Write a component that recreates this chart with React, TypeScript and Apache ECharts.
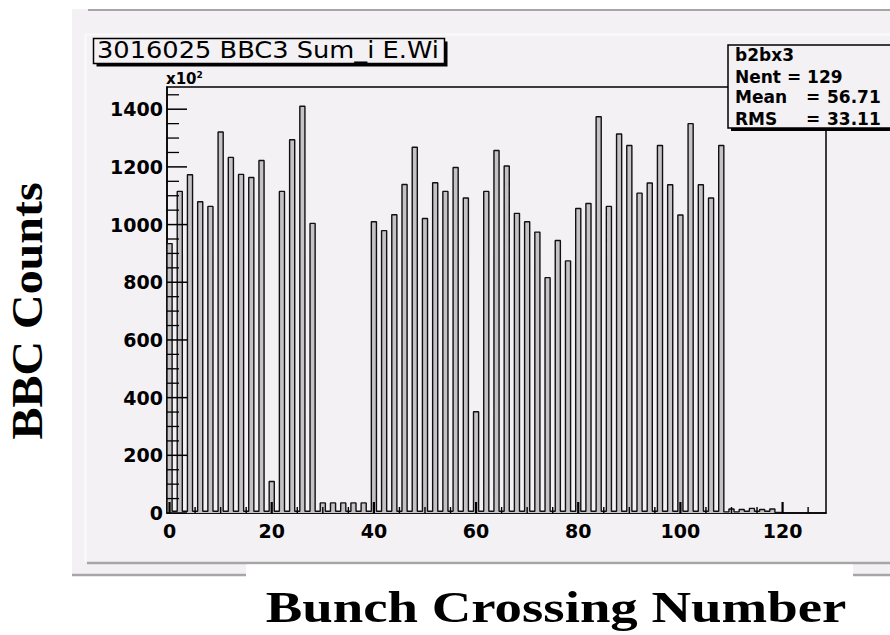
import React, { useEffect, useRef } from "react";
import * as echarts from "echarts";

// Histogram contents, bins 0..128 (bin k centred on bunch crossing k), in units of 10^2 counts
const binCounts = [
  934, 6, 1115, 6, 1173, 6, 1079, 6, 1063, 6,
  1321, 6, 1233, 6, 1174, 6, 1163, 6, 1222, 6,
  109, 6, 1115, 6, 1294, 6, 1410, 6, 1004, 6,
  35, 6, 35, 6, 35, 6, 35, 6, 35, 6,
  1010, 6, 979, 6, 1034, 6, 1139, 6, 1268, 6,
  1021, 6, 1145, 6, 1115, 6, 1198, 6, 1092, 6,
  351, 6, 1115, 6, 1257, 6, 1203, 6, 1039, 6,
  1010, 6, 974, 6, 816, 6, 945, 6, 874, 6,
  1056, 6, 1073, 6, 1374, 6, 1063, 6, 1314, 6,
  1274, 6, 1109, 6, 1144, 6, 1274, 6, 1138, 6,
  1033, 6, 1350, 6, 1138, 6, 1092, 6, 1274, 4,
  14, 4, 12, 6, 16, 6, 12, 6, 14, 2,
  0, 0, 0, 0, 0, 0, 0, 0, 0,
];

const xRange = [-0.5, 128.5];
const yMax = 1477;
const xLabelValues = [0, 20, 40, 60, 80, 100, 120];
const xMinorTickValues = [5, 10, 15, 25, 30, 35, 45, 50, 55, 65, 70, 75, 85, 90, 95, 105, 110, 115, 125];
const yLabelValues = [0, 200, 400, 600, 800, 1000, 1200, 1400];
const yMinorTickValues = [
  50, 100, 150, 250, 300, 350, 450, 500, 550, 650, 700, 750,
  850, 900, 950, 1050, 1100, 1150, 1250, 1300, 1350, 1450,
];

const histTitle = "3016025 BBC3 Sum_i E.Wi";
const statsName = "b2bx3";
const statsNent = "Nent = 129";
const statsRows = [
  ["Mean", "=", "56.71"],
  ["RMS", "=", "33.11"],
];
const yTitle = "BBC Counts";
const xTitle = "Bunch Crossing Number";

const PAD = "#f4f1f4";
const AXIS_FONT = '"DejaVu Sans", sans-serif';

// tick marks drawn as rectangular scatter symbols placed through the axes' scales
function xTickSeries(values: number[], len: number, width: number) {
  return {
    type: "scatter",
    silent: true,
    clip: false,
    z: 8,
    symbol: "rect",
    symbolSize: [width, len],
    symbolOffset: [0, -len / 2],
    itemStyle: { color: "#000", opacity: 1 },
    data: values.map((v) => [v, 0]),
  };
}

function yTickSeries(values: number[], len: number, width: number) {
  return {
    type: "scatter",
    silent: true,
    clip: false,
    z: 8,
    symbol: "rect",
    symbolSize: [len, width],
    symbolOffset: [len / 2, 0],
    itemStyle: { color: "#000", opacity: 1 },
    data: values.map((v) => [xRange[0], v]),
  };
}

export default function App() {
  const ref = useRef<HTMLDivElement>(null);

  useEffect(() => {
    if (!ref.current) return;
    const chart = echarts.init(ref.current, null, { renderer: "svg" });

    const histData: number[][] = [[xRange[0], 0]];
    binCounts.forEach((v, k) => histData.push([k - 0.5, v]));
    histData.push([xRange[1], 0]);

    const statsFont = `bold 17px ${AXIS_FONT}`;
    const statsGraphics: any[] = [
      { type: "text", x: 735, y: 55, z: 102, style: { text: statsName, font: statsFont, fill: "#000", textVerticalAlign: "middle" } },
      { type: "text", x: 735, y: 77, z: 102, style: { text: statsNent, font: statsFont, fill: "#000", textVerticalAlign: "middle" } },
    ];
    statsRows.forEach((row, i) => {
      const y = 97 + i * 22;
      statsGraphics.push(
        { type: "text", x: 735, y, z: 102, style: { text: row[0], font: statsFont, fill: "#000", textVerticalAlign: "middle" } },
        { type: "text", x: 806, y, z: 102, style: { text: row[1], font: statsFont, fill: "#000", textVerticalAlign: "middle" } },
        { type: "text", x: 827, y, z: 102, style: { text: row[2], font: statsFont, fill: "#000", textVerticalAlign: "middle" } }
      );
    });

    const option: any = {
      animation: false,
      backgroundColor: "#ffffff",
      grid: {
        left: 167,
        top: 87,
        right: 64,
        bottom: 122,
        show: true,
        borderColor: "#000",
        borderWidth: 1.5,
        backgroundColor: "transparent",
      },
      xAxis: {
        type: "value",
        min: xRange[0],
        max: xRange[1],
        splitLine: { show: false },
        axisLine: { show: true, onZero: false, lineStyle: { color: "#000", width: 1.5 } },
        axisTick: { show: false },
        axisLabel: {
          show: true,
          customValues: xLabelValues,
          margin: 8,
          color: "#000",
          fontFamily: AXIS_FONT,
          fontWeight: "bold",
          fontSize: 19,
          formatter: (v: number) => String(v),
        },
      },
      yAxis: {
        type: "value",
        min: 0,
        max: yMax,
        splitLine: { show: false },
        axisLine: { show: true, onZero: false, lineStyle: { color: "#000", width: 1.5 } },
        axisTick: { show: false },
        axisLabel: {
          show: true,
          customValues: yLabelValues,
          margin: 4,
          color: "#000",
          fontFamily: AXIS_FONT,
          fontWeight: "bold",
          fontSize: 19,
          formatter: (v: number) => String(v),
        },
      },
      series: [
        {
          type: "line",
          step: "end",
          symbol: "none",
          data: histData,
          lineStyle: { color: "#111", width: 1.4 },
          areaStyle: { color: "#c4c2c4", opacity: 1 },
          z: 5,
        },
        xTickSeries(xLabelValues, 11, 2.2),
        xTickSeries(xMinorTickValues, 6, 1.4),
        yTickSeries(yLabelValues, 20, 1.5),
        yTickSeries(yMinorTickValues, 12, 1.3),
      ],
      graphic: [
        // canvas / pad backgrounds
        { type: "rect", z: -100, shape: { x: 72, y: 9, width: 830, height: 567 }, style: { fill: PAD } },
        { type: "line", z: -99, shape: { x1: 88, y1: 10, x2: 890, y2: 10 }, style: { stroke: "#a6a6a6", lineWidth: 2 } },
        { type: "line", z: -99, shape: { x1: 85, y1: 34.5, x2: 890, y2: 34.5 }, style: { stroke: "#fbfafb", lineWidth: 2 } },
        { type: "line", z: -99, shape: { x1: 85.5, y1: 34, x2: 85.5, y2: 562 }, style: { stroke: "#fbfafb", lineWidth: 2 } },
        { type: "line", z: -99, shape: { x1: 87, y1: 563, x2: 890, y2: 563 }, style: { stroke: "#a6a6a6", lineWidth: 2.5 } },
        { type: "rect", z: -98, shape: { x: 246, y: 564.5, width: 607, height: 71 }, style: { fill: "#ffffff" } },
        { type: "line", z: -99, shape: { x1: 72, y1: 575, x2: 246, y2: 575 }, style: { stroke: "#a6a6a6", lineWidth: 2.5 } },
        { type: "line", z: -99, shape: { x1: 853, y1: 575, x2: 890, y2: 575 }, style: { stroke: "#a6a6a6", lineWidth: 2.5 } },

        // title box
        { type: "rect", z: 100, shape: { x: 96.5, y: 41.5, width: 351, height: 25 }, style: { fill: "#000" } },
        { type: "rect", z: 101, shape: { x: 93.5, y: 38.5, width: 351, height: 25 }, style: { fill: PAD, stroke: "#000", lineWidth: 1.5 } },
        {
          type: "text",
          z: 102,
          x: 97,
          y: 50,
          scaleX: 1.117,
          style: { text: histTitle, font: `23px ${AXIS_FONT}`, fill: "#000", textVerticalAlign: "middle" },
        },

        // stats box
        { type: "rect", z: 100, shape: { x: 731, y: 48, width: 200, height: 83 }, style: { fill: "#000" } },
        { type: "rect", z: 101, shape: { x: 728, y: 45, width: 200, height: 83 }, style: { fill: PAD, stroke: "#000", lineWidth: 1.5 } },
        ...statsGraphics,

        // x10^2 multiplier
        {
          type: "text",
          z: 102,
          x: 166,
          y: 79,
          style: {
            text: "x10{sup|2}",
            font: `bold 15px ${AXIS_FONT}`,
            fill: "#000",
            textVerticalAlign: "middle",
            rich: { sup: { font: `bold 9px ${AXIS_FONT}`, fill: "#000", verticalAlign: "top", padding: [0, 0, 8, 0] } },
          },
        },

        // axis titles
        {
          type: "text",
          z: 102,
          x: 27,
          y: 311,
          rotation: Math.PI / 2,
          scaleX: 1.09,
          style: {
            text: yTitle,
            font: 'bold 44px "Liberation Serif", serif',
            fill: "#000",
            textAlign: "center",
            textVerticalAlign: "middle",
          },
        },
        {
          type: "text",
          z: 102,
          x: 556,
          y: 607,
          scaleX: 1.246,
          style: {
            text: xTitle,
            font: 'bold 44px "Liberation Serif", serif',
            fill: "#000",
            textAlign: "center",
            textVerticalAlign: "middle",
          },
        },
      ],
    };

    chart.setOption(option);
    return () => chart.dispose();
  }, []);

  return (
    <div
      ref={ref}
      style={{ position: "absolute", left: 0, top: 0, width: 890, height: 635 }}
    />
  );
}
